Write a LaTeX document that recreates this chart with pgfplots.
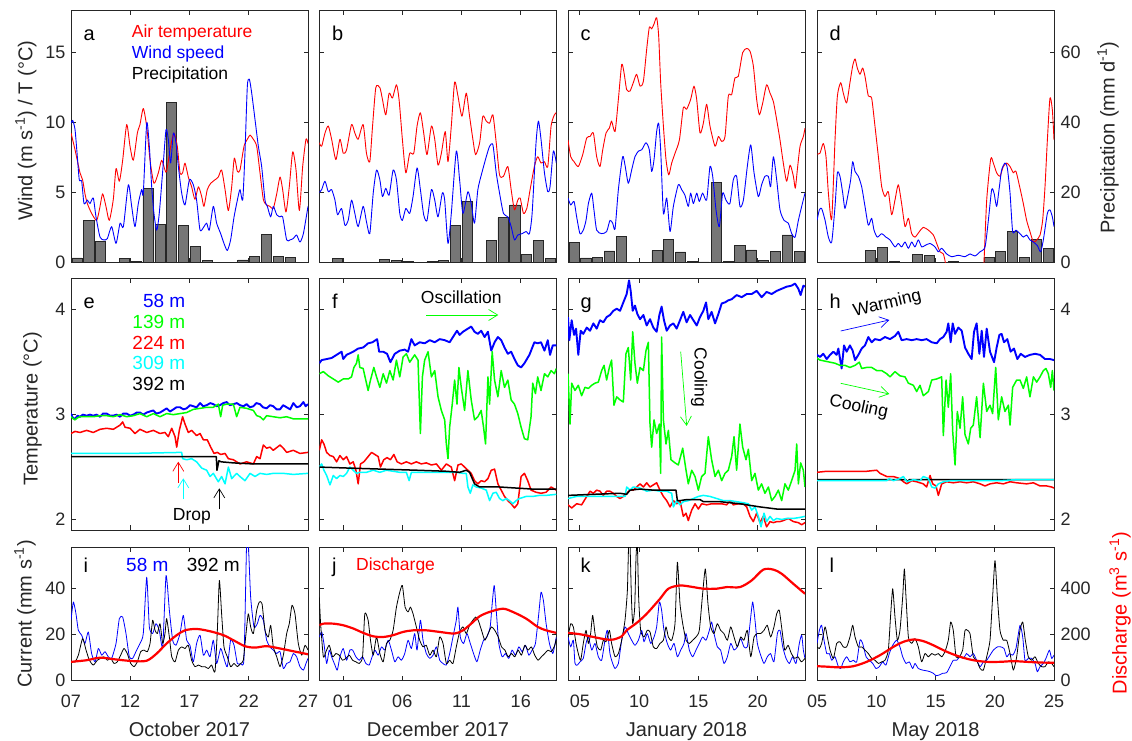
\documentclass[border=0pt]{standalone}
\usepackage{pgfplots}
\pgfplotsset{compat=1.18}
\usepackage{fontspec}
\setmainfont{Liberation Sans}
\usetikzlibrary{arrows.meta}
\definecolor{axgray}{RGB}{38,38,38}
\definecolor{bargray}{RGB}{118,118,118}
\definecolor{cyn}{RGB}{0,255,255}
\definecolor{grn}{RGB}{0,255,0}
\definecolor{rd}{RGB}{255,0,0}
\definecolor{bl}{RGB}{0,0,255}
\newcommand{\fs}[1]{\fontsize{#1}{#1}\selectfont}
\pgfplotsset{
  every axis/.append style={
    scale only axis, width=237pt, anchor=south west,
    axis line style={draw=axgray, line width=0.8pt},
    tick style={draw=axgray, line width=0.8pt},
    tick align=inside, major tick length=4.5pt,
    tick label style={font=\fs{18}, text=axgray},
    /pgf/number format/assume math mode=true,
    xticklabel style={yshift=-11pt},
  },
  C1/.style={xmin=7,xmax=27,xtick={7,12,17,22,27}},
  C2/.style={xmin=-1,xmax=19,xtick={1,6,11,16}},
  C3/.style={xmin=4,xmax=24,xtick={5,10,15,20}},
  C4/.style={xmin=5,xmax=25,xtick={5,10,15,20,25}},
  R1/.style={height=251.6pt,ymin=0,ymax=18,ytick={0,5,10,15}},
  R1b/.style={height=251.6pt,ymin=0,ymax=72,ytick={0,20,40,60}},
  R2/.style={height=251.7pt,ymin=1.9,ymax=4.3,ytick={2,3,4}},
  R3/.style={height=133.4pt,ymin=0,ymax=58,ytick={0,20,40}},
  R3d/.style={height=133.4pt,ymin=0,ymax=580,ytick={0,200,400}},
  nox/.style={xticklabel=\empty},
  noy/.style={yticklabel=\empty},
  ly/.style={yticklabel style={xshift=-2pt}},
  ry/.style={yticklabel style={xshift=3pt}},
  bars/.style={ybar, bar width=0.85, fill=bargray, draw=black!85, line width=0.6pt},
  AT/.style={rd, line width=0.9pt, line join=round, smooth, tension=0.4},
  WS/.style={bl, line width=0.9pt, line join=round, smooth, tension=0.4},
  t58/.style={bl, line width=1.9pt, line join=round},
  t139/.style={grn, line width=1.5pt, line join=round},
  t224/.style={rd, line width=1.5pt, line join=round},
  t309/.style={cyn, line width=1.5pt, line join=round},
  t392/.style={black, line width=1.5pt, line join=round},
  c58/.style={bl, line width=0.8pt, line join=round, smooth, tension=0.35},
  c392/.style={black, line width=0.8pt, line join=round, smooth, tension=0.35},
  dis/.style={rd, line width=2.2pt, smooth},
}
\tikzset{ann/.style={inner sep=0pt, font=\fs{17.5}},
  arr/.style={line width=0.7pt, -{Straight Barb[length=9pt,width=11pt]}}}
\begin{document}
\begin{tikzpicture}
\useasboundingbox (0,0) rectangle (1132pt,741pt);
% ================= ROW 1 =================
% ---- a ----
\begin{axis}[at={(71pt,478.7pt)}, C1, R1b, hide axis]
\addplot[bars] coordinates {(7.5,1.25) (8.5,12.1) (9.5,6.0) (11.5,1.05) (12.5,0.2) (13.5,21.2) (14.5,10.8) (15.5,45.8) (16.5,10.6) (17.5,4.6) (18.5,0.5) (21.5,0.7) (22.5,1.6) (23.5,8.0) (24.5,1.8) (25.5,1.4)};
\end{axis}
\begin{axis}[at={(71pt,478.7pt)}, C1, R1, nox, ly]
\addplot[AT] coordinates {(7.00,9.25) (7.34,8.05) (7.76,6.4) (7.98,5.9) (8.18,4.9) (8.38,4.2) (8.74,3.5) (9.17,3.0) (9.45,4.0) (9.67,4.9) (9.95,4.0) (10.23,3.0) (10.57,4.5) (10.80,6.7) (11.08,5.8) (11.36,7.3) (11.70,9.85) (11.98,8.3) (12.26,7.3) (12.60,9.25) (12.82,9.85) (13.10,11.0) (13.39,9.7) (13.67,7.3) (14.00,5.65) (14.37,6.4) (14.65,7.3) (14.93,6.6) (15.07,6.5) (15.41,8.3) (15.69,9.25) (15.97,8.3) (16.20,6.4) (16.42,6.4) (16.62,7.1) (16.90,6.1) (17.18,5.4) (17.46,4.5) (17.75,5.4) (18.03,4.7) (18.22,4.0) (18.50,5.2) (18.79,5.65) (19.15,5.9) (19.43,6.1) (19.71,6.6) (20.00,5.2) (20.28,3.7) (20.56,5.4) (20.78,7.45) (21.04,6.5) (21.26,6.6) (21.60,8.3) (21.88,8.8) (22.11,9.1) (22.39,8.8) (22.67,8.3) (22.95,6.4) (23.23,4.5) (23.51,4.1) (23.79,4.0) (24.07,3.85) (24.36,4.9) (24.64,6.1) (24.86,5.2) (25.14,3.6) (25.42,5.4) (25.71,7.9) (25.99,6.6) (26.27,3.7) (26.55,6.85) (26.83,8.8) (27.00,8.5)};
\addplot[WS] coordinates {(7.00,9.95) (7.14,10.15) (7.34,9.5) (7.53,7.6) (7.70,5.9) (7.90,5.8) (8.10,4.2) (8.38,4.45) (8.60,4.2) (8.88,4.6) (9.11,3.25) (9.45,1.8) (9.78,1.6) (10.07,1.7) (10.43,2.55) (10.80,1.35) (11.14,2.8) (11.42,2.55) (11.84,5.55) (12.12,4.0) (12.40,2.55) (12.68,4.2) (12.96,5.2) (13.10,4.95) (13.39,9.95) (13.61,8.3) (13.81,5.4) (14.00,3.5) (14.23,2.3) (14.45,3.5) (14.79,7.1) (15.02,9.5) (15.21,8.8) (15.41,7.1) (15.64,9.25) (15.86,8.55) (16.06,6.85) (16.34,4.95) (16.62,4.1) (16.99,5.9) (17.32,5.55) (17.60,4.45) (17.89,2.3) (18.22,2.55) (18.45,2.8) (18.67,2.3) (19.01,4.0) (19.29,2.8) (19.63,2.05) (19.91,1.35) (20.19,0.85) (20.47,1.6) (20.76,3.25) (21.04,4.45) (21.26,5.2) (21.49,4.45) (21.68,7.8) (21.88,12.6) (22.05,13.1) (22.25,12.1) (22.53,10.2) (22.81,8.3) (23.09,6.85) (23.37,4.45) (23.57,4.0) (23.85,3.25) (24.07,4.0) (24.36,3.4) (24.64,3.25) (24.86,3.25) (25.20,1.6) (25.48,1.6) (25.76,1.7) (26.04,1.95) (26.32,1.45) (26.61,2.05) (27.00,4.0)};
\end{axis}
% ---- b ----
\begin{axis}[at={(319.3pt,478.7pt)}, C2, R1b, hide axis]
\addplot[bars] coordinates {(0.5,1.0) (4.5,0.8) (5.5,0.5) (6.5,0.2) (8.5,0.2) (9.5,0.5) (10.5,10.6) (11.5,17.5) (13.5,6.3) (14.5,12.8) (15.5,16.4) (16.5,2.3) (17.5,6.3) (18.5,1.05)};
\end{axis}
\begin{axis}[at={(319.3pt,478.7pt)}, C2, R1, nox, noy]
\addplot[AT] coordinates {(-1.00,8.55) (-0.80,8.3) (-0.52,9.25) (-0.24,9.75) (0.04,8.8) (0.40,7.35) (0.74,8.8) (1.02,7.8) (1.30,8.05) (1.72,9.85) (2.00,9.25) (2.28,8.8) (2.70,9.85) (2.98,7.8) (3.26,7.2) (3.49,9.7) (3.77,12.5) (4.11,12.5) (4.33,11.65) (4.61,10.55) (4.89,12.1) (5.17,11.75) (5.51,12.7) (5.73,11.65) (6.01,8.8) (6.30,6.4) (6.63,7.8) (6.97,7.8) (7.25,9.75) (7.53,10.7) (7.81,9.25) (8.09,7.7) (8.46,9.75) (8.74,8.8) (9.02,6.95) (9.30,7.8) (9.63,9.35) (9.86,7.2) (10.14,9.75) (10.42,12.9) (10.70,11.9) (11.04,10.45) (11.40,12.1) (11.68,10.45) (11.96,8.8) (12.19,7.7) (12.53,8.55) (12.80,10.45) (13.09,10.1) (13.37,9.95) (13.65,10.55) (13.93,8.55) (14.21,6.25) (14.54,6.15) (14.91,6.85) (15.19,5.2) (15.47,3.75) (15.75,4.45) (15.95,4.6) (16.23,3.5) (16.51,3.85) (16.79,5.2) (17.15,6.85) (17.43,7.55) (17.71,7.1) (18.00,7.2) (18.28,6.85) (18.56,9.75) (18.84,10.55) (19.00,10.7)};
\addplot[WS] coordinates {(-1.00,5.0) (-0.80,5.2) (-0.52,5.8) (-0.24,5.05) (0.04,5.2) (0.32,4.45) (0.54,3.4) (0.88,3.85) (1.16,2.65) (1.44,3.0) (1.72,4.45) (2.00,3.5) (2.28,2.55) (2.70,4.0) (2.98,2.9) (3.26,2.05) (3.55,4.95) (3.83,6.6) (4.11,5.9) (4.33,4.7) (4.61,5.3) (4.89,4.8) (5.23,6.6) (5.51,5.9) (5.79,3.5) (6.01,3.0) (6.30,3.85) (6.63,3.5) (6.91,4.7) (7.25,6.75) (7.53,5.2) (7.81,3.4) (8.09,3.0) (8.46,5.2) (8.74,4.45) (9.02,3.25) (9.38,4.95) (9.58,4.45) (9.86,1.35) (10.14,3.5) (10.56,7.95) (10.84,5.9) (11.12,3.5) (11.54,5.05) (11.82,4.2) (12.10,2.8) (12.38,5.2) (12.75,6.5) (13.09,7.55) (13.37,8.3) (13.65,8.4) (13.93,6.4) (14.21,4.95) (14.54,3.5) (14.91,3.25) (15.19,2.55) (15.47,1.6) (15.75,1.95) (16.12,2.05) (16.45,2.2) (16.73,2.05) (16.96,3.5) (17.29,8.55) (17.49,10.1) (17.71,8.8) (18.00,6.4) (18.28,5.05) (18.47,5.4) (18.75,7.95) (19.00,7.1)};
\end{axis}
% ---- c ----
\begin{axis}[at={(568pt,478.7pt)}, C3, R1b, hide axis]
\addplot[bars] coordinates {(4.5,5.8) (5.5,1.25) (6.5,1.35) (7.5,3.25) (8.5,7.5) (11.5,3.35) (12.5,6.5) (13.5,3.0) (14.5,0.2) (15.5,0.1) (16.5,22.8) (17.5,0.2) (18.5,4.8) (19.5,3.55) (20.5,0.5) (21.5,3.15) (22.5,7.85) (23.5,3.15)};
\end{axis}
\begin{axis}[at={(568pt,478.7pt)}, C3, R1, nox, noy]
\addplot[AT] coordinates {(4.00,8.75) (4.23,7.55) (4.51,7.2) (4.87,6.85) (5.24,7.7) (5.58,8.9) (5.86,9.0) (6.14,9.25) (6.42,7.55) (6.70,6.85) (6.93,8.05) (7.21,9.25) (7.49,9.6) (7.68,10.1) (7.97,9.35) (8.25,11.65) (8.53,14.15) (8.73,13.55) (8.95,12.35) (9.23,12.25) (9.51,12.85) (9.79,13.45) (10.08,12.6) (10.36,12.95) (10.64,15.25) (10.86,16.8) (11.06,16.7) (11.26,17.05) (11.48,17.5) (11.65,16.2) (11.82,12.85) (12.05,9.75) (12.27,7.35) (12.50,6.25) (12.75,7.1) (13.03,7.8) (13.40,8.75) (13.73,11.05) (14.01,10.95) (14.35,11.65) (14.63,12.6) (14.86,11.65) (15.14,9.25) (15.42,9.95) (15.70,11.3) (15.98,9.75) (16.41,8.3) (16.69,9.0) (16.97,8.65) (17.25,9.0) (17.53,11.9) (17.81,12.0) (18.09,13.2) (18.37,13.3) (18.74,15.0) (19.08,15.3) (19.36,15.1) (19.64,14.05) (19.92,11.65) (20.15,10.55) (20.43,11.4) (20.76,12.7) (21.05,12.1) (21.33,11.5) (21.61,10.2) (21.89,8.75) (22.17,7.1) (22.45,5.8) (22.74,6.95) (23.02,6.15) (23.18,5.3) (23.35,6.6) (23.58,8.3) (23.86,9.0) (24.00,9.6)};
\addplot[WS] coordinates {(4.00,4.6) (4.23,4.1) (4.51,4.35) (4.73,3.25) (5.01,2.05) (5.29,2.3) (5.52,3.0) (5.72,4.2) (6.00,4.95) (6.19,3.75) (6.42,2.3) (6.84,2.05) (7.26,2.2) (7.54,3.0) (7.77,2.8) (7.97,2.4) (8.25,5.2) (8.61,7.55) (8.81,6.95) (9.09,5.65) (9.37,6.6) (9.65,7.55) (9.94,7.95) (10.22,8.05) (10.58,8.55) (10.86,8.05) (11.06,6.5) (11.26,7.35) (11.48,9.35) (11.65,9.95) (11.82,8.05) (12.05,3.5) (12.33,4.6) (12.61,2.2) (12.89,4.0) (13.31,5.55) (13.59,5.2) (13.87,4.8) (14.15,4.0) (14.35,4.95) (14.58,4.2) (14.86,4.95) (15.08,4.35) (15.36,4.95) (15.70,4.45) (15.98,6.85) (16.21,6.15) (16.49,3.75) (16.77,2.55) (17.05,4.95) (17.33,4.45) (17.66,4.2) (17.95,5.9) (18.23,6.15) (18.51,4.0) (18.80,4.45) (19.13,6.85) (19.42,8.4) (19.70,6.4) (20.06,4.7) (20.34,5.55) (20.62,6.15) (20.91,6.15) (21.10,5.4) (21.33,7.55) (21.61,5.9) (21.89,3.75) (22.23,3.0) (22.59,2.8) (22.88,2.05) (23.16,1.8) (23.44,3.0) (23.72,4.0) (24.00,4.95)};
\end{axis}
% ---- d ----
\begin{axis}[at={(817pt,478.7pt)}, C4, R1b, hide x axis, axis y line*=right, ry]
\addplot[bars] coordinates {(9.5,3.45) (10.5,4.2) (11.5,0.3) (13.5,2.2) (14.5,1.9) (16.5,0.2) (19.5,1.45) (20.5,3.15) (21.5,8.9) (22.5,1.35) (23.5,6.5) (24.5,3.9)};
\end{axis}
\begin{axis}[at={(817pt,478.7pt)}, C4, R1, nox, noy]
\addplot[AT] coordinates {(5.00,7.75) (5.25,7.8) (5.53,8.5) (5.76,7.55) (5.96,4.95) (6.24,3.1) (6.52,8.75) (6.72,11.9) (7.00,12.85) (7.22,12.1) (7.50,11.4) (7.78,12.85) (8.01,14.05) (8.21,14.55) (8.40,13.9) (8.63,13.45) (8.85,13.9) (9.05,13.3) (9.33,11.9) (9.61,11.75) (9.89,9.75) (10.18,7.55) (10.46,5.4) (10.74,4.7) (11.02,5.05) (11.30,3.4) (11.58,4.45) (11.86,5.55) (12.14,4.2) (12.43,2.55) (12.71,3.15) (12.99,2.05) (13.27,1.8) (13.64,2.2) (13.97,2.5) (14.40,2.3) (14.82,1.95) (15.10,1.35) (15.38,0.75) (15.66,0.6) (15.83,0) (15.94,-0.5) (17.63,-1.5) (18.98,-0.5) (19.09,0) (19.32,4.45) (19.66,7.4) (19.88,7.1) (20.16,6.4) (20.44,6.15) (20.72,6.85) (21.01,7.1) (21.29,6.85) (21.57,6.4) (21.79,6.5) (22.13,5.3) (22.41,4.2) (22.69,3.0) (22.97,2.2) (23.26,1.45) (23.54,1.6) (23.82,1.95) (24.04,3.0) (24.24,5.4) (24.44,8.75) (24.66,11.75) (24.86,10.9) (25.00,8.75)};
\addplot[WS] coordinates {(5.00,3.0) (5.20,3.75) (5.39,3.85) (5.68,3.0) (5.96,1.8) (6.24,1.45) (6.52,4.0) (6.72,6.4) (6.94,6.15) (7.17,4.95) (7.36,3.85) (7.64,4.95) (7.84,5.9) (8.01,7.2) (8.21,6.5) (8.49,6.15) (8.77,5.4) (9.05,4.0) (9.33,2.65) (9.61,3.15) (9.81,2.3) (10.09,1.8) (10.46,2.05) (10.82,1.8) (11.16,1.6) (11.58,1.1) (11.86,1.35) (12.14,1.1) (12.43,1.45) (12.71,1.0) (12.99,1.45) (13.27,1.1) (13.55,1.6) (13.83,1.1) (14.11,1.2) (14.54,1.35) (14.96,1.1) (15.24,0.75) (15.52,1.0) (15.94,0.6) (16.36,0.4) (16.93,0.5) (17.49,0.4) (17.91,0.6) (18.33,0.45) (18.76,0.75) (19.18,1.1) (19.46,3.0) (19.74,5.2) (19.94,4.95) (20.16,4.0) (20.39,5.4) (20.58,6.6) (20.86,7.1) (21.06,6.75) (21.29,4.95) (21.51,2.2) (21.79,2.3) (22.13,2.05) (22.41,1.8) (22.69,1.95) (22.97,1.6) (23.26,1.45) (23.59,1.2) (23.87,0.75) (24.10,1.6) (24.44,3.5) (24.66,3.75) (24.86,3.25) (25.00,2.55)};
\end{axis}
% ================= ROW 2 =================
% ---- e ----
\begin{axis}[at={(71pt,211pt)}, C1, R2, nox, ly]
\addplot[t58] coordinates {(7.00,3.01)(7.15,2.97)(7.34,2.96)(7.55,2.99)(7.76,2.98)(8.0,3.0)(8.32,2.99)(8.6,3.0)(8.88,2.99)(9.15,3.0)(9.45,2.98)(9.7,3.01)(10.01,3.01)(10.3,2.99)(10.57,2.99)(10.85,3.0)(11.14,2.98)(11.4,3.01)(11.70,3.01)(12.0,2.99)(12.26,3.0)(12.55,3.02)(12.82,3.02)(13.1,3.0)(13.39,3.02)(13.65,3.03)(13.95,3.04)(14.2,3.01)(14.51,3.02)(14.8,3.04)(15.07,3.06)(15.35,3.03)(15.64,3.05)(15.9,3.07)(16.20,3.07)(16.5,3.05)(16.76,3.06)(17.05,3.09)(17.32,3.08)(17.6,3.07)(17.89,3.11)(18.15,3.08)(18.45,3.09)(18.75,3.11)(19.01,3.1)(19.3,3.08)(19.57,3.09)(19.85,3.11)(20.14,3.12)(20.4,3.09)(20.70,3.1)(21.0,3.11)(21.26,3.09)(21.55,3.08)(21.82,3.1)(22.1,3.07)(22.39,3.08)(22.65,3.11)(22.95,3.1)(23.2,3.07)(23.51,3.06)(23.8,3.09)(24.07,3.08)(24.35,3.05)(24.64,3.05)(24.9,3.09)(25.20,3.07)(25.5,3.05)(25.76,3.11)(26.05,3.07)(26.32,3.08)(26.61,3.12)(26.8,3.08)(27.00,3.1)};
\addplot[t139] coordinates {(7.00,2.98)(7.2,2.96)(7.34,2.95)(7.55,2.97)(7.76,2.98)(8.32,2.98)(8.88,2.98)(9.45,2.99)(10.01,2.99)(10.57,2.98)(11.14,3.0)(11.70,2.98)(12.26,2.99)(12.82,3.01)(13.39,2.98)(13.95,3.01)(14.51,2.98)(15.07,3.01)(15.64,3.0)(16.20,3.01)(16.76,3.02)(17.32,3.05)(17.89,3.06)(18.45,3.07)(19.01,3.07)(19.43,3.1)(19.63,2.98)(19.80,3.09)(20.14,3.1)(20.70,3.1)(20.98,2.98)(21.26,3.07)(21.82,3.06)(22.39,3.04)(22.67,2.99)(22.95,2.98)(23.23,2.95)(23.51,2.99)(24.07,2.98)(24.64,2.97)(25.20,2.98)(25.76,2.96)(26.32,2.96)(27.00,2.96)};
\addplot[t224] coordinates {(7.00,2.82)(7.34,2.84)(7.76,2.83)(8.32,2.85)(8.88,2.83)(9.45,2.86)(10.01,2.87)(10.57,2.86)(11.14,2.9)(11.36,2.93)(11.56,2.88)(11.98,2.87)(12.40,2.82)(12.82,2.86)(13.39,2.83)(13.95,2.85)(14.51,2.82)(14.93,2.83)(15.21,2.79)(15.50,2.87)(15.78,2.79)(15.92,2.69)(16.14,2.85)(16.42,2.98)(16.62,2.91)(16.90,2.83)(17.18,2.85)(17.60,2.8)(17.89,2.82)(18.17,2.76)(18.50,2.76)(18.79,2.69)(19.07,2.63)(19.35,2.64)(19.63,2.62)(20.00,2.63)(20.28,2.58)(20.70,2.57)(21.26,2.53)(21.82,2.55)(22.39,2.53)(22.67,2.6)(22.95,2.58)(23.23,2.71)(23.51,2.68)(23.79,2.69)(24.07,2.66)(24.64,2.71)(24.92,2.68)(25.20,2.64)(25.76,2.66)(26.32,2.63)(27.00,2.64)};
\addplot[t309] coordinates {(7.00,2.63)(12.0,2.63)(16.34,2.64)(16.42,2.58)(16.76,2.57)(17.18,2.58)(17.60,2.55)(18.03,2.49)(18.45,2.47)(18.73,2.41)(19.01,2.44)(19.43,2.36)(19.71,2.41)(20.00,2.34)(20.28,2.5)(20.56,2.39)(20.98,2.44)(21.26,2.41)(21.68,2.37)(22.11,2.44)(22.53,2.41)(22.95,2.44)(23.51,2.43)(24.07,2.44)(24.92,2.44)(25.76,2.43)(27.00,2.44)};
\addplot[t392] coordinates {(7.00,2.6)(19.26,2.6)(19.32,2.47)(19.48,2.56)(19.68,2.55)(20.67,2.54)(22.36,2.53)(27.00,2.53)};
\end{axis}
% ---- f ----
\begin{axis}[at={(319.3pt,211pt)}, C2, R2, nox, noy]
\addplot[t58] coordinates {(-1.00,3.49)(-0.80,3.52)(-0.38,3.53)(0.04,3.54)(0.46,3.57)(0.88,3.6)(1.02,3.53)(1.30,3.57)(1.86,3.6)(2.28,3.63)(2.70,3.64)(3.12,3.68)(3.49,3.69)(3.88,3.72)(4.05,3.6)(4.39,3.6)(4.72,3.58)(5.00,3.5)(5.37,3.58)(5.79,3.61)(6.21,3.62)(6.49,3.6)(6.77,3.72)(7.05,3.66)(7.47,3.69)(7.89,3.68)(8.32,3.71)(8.74,3.69)(9.16,3.72)(9.58,3.71)(10.00,3.69)(10.28,3.74)(10.62,3.8)(10.84,3.76)(11.12,3.79)(11.54,3.82)(11.82,3.84)(12.10,3.79)(12.38,3.77)(12.66,3.8)(12.95,3.74)(13.23,3.79)(13.51,3.61)(13.79,3.69)(14.07,3.74)(14.35,3.71)(14.63,3.64)(14.91,3.58)(15.19,3.6)(15.47,3.53)(15.75,3.47)(16.03,3.45)(16.31,3.49)(16.73,3.57)(17.15,3.69)(17.43,3.68)(17.71,3.69)(18.00,3.61)(18.28,3.71)(18.47,3.57)(18.70,3.66)(19.00,3.66)};
\addplot[t139] coordinates {(-1.00,3.39)(-0.66,3.41)(-0.24,3.37)(0.18,3.34)(0.60,3.31)(1.02,3.34)(1.44,3.34)(1.72,3.36)(1.92,3.45)(2.14,3.49)(2.28,3.57)(2.42,3.45)(2.70,3.44)(2.84,3.37)(2.98,3.3)(3.12,3.23)(3.32,3.33)(3.60,3.45)(3.83,3.36)(4.11,3.26)(4.39,3.39)(4.67,3.3)(4.95,3.42)(5.23,3.33)(5.51,3.52)(5.79,3.36)(6.07,3.55)(6.35,3.58)(6.63,3.5)(7.05,3.57)(7.33,3.52)(7.53,2.82)(7.70,3.36)(7.89,3.52)(8.18,3.6)(8.46,3.36)(8.74,3.42)(9.02,3.17)(9.30,3.04)(9.58,2.95)(9.72,2.72)(9.86,2.58)(10.00,2.88)(10.22,3.1)(10.42,3.33)(10.62,3.1)(10.78,3.45)(10.98,3.26)(11.26,3.04)(11.54,3.42)(11.82,3.14)(12.10,2.95)(12.38,2.98)(12.66,3.04)(12.86,2.88)(13.03,2.72)(13.23,3.36)(13.37,3.1)(13.59,3.6)(13.79,3.33)(14.07,3.17)(14.35,3.42)(14.63,3.26)(14.91,3.33)(15.19,3.14)(15.47,3.1)(15.75,3.01)(16.03,2.88)(16.31,2.77)(16.59,2.76)(16.87,2.98)(17.01,3.3)(17.24,3.2)(17.43,3.36)(17.71,3.23)(18.00,3.39)(18.28,3.36)(18.56,3.42)(18.84,3.39)(19.00,3.44)};
\addplot[t224] coordinates {(-1.00,2.66)(-0.80,2.76)(-0.61,2.72)(-0.38,2.64)(-0.10,2.61)(0.18,2.6)(0.46,2.55)(0.74,2.61)(1.02,2.57)(1.30,2.6)(1.58,2.53)(1.86,2.55)(2.09,2.47)(2.28,2.34)(2.48,2.53)(2.76,2.55)(3.12,2.6)(3.41,2.64)(3.69,2.62)(3.97,2.6)(4.16,2.5)(4.44,2.57)(4.72,2.59)(5.00,2.57)(5.29,2.62)(5.57,2.55)(5.93,2.53)(6.35,2.55)(6.77,2.53)(7.19,2.55)(7.61,2.53)(8.03,2.54)(8.46,2.52)(8.88,2.53)(9.30,2.47)(9.72,2.53)(10.14,2.5)(10.42,2.37)(10.70,2.52)(10.98,2.53)(11.26,2.5)(11.54,2.47)(11.82,2.44)(12.10,2.37)(12.38,2.34)(12.66,2.37)(12.95,2.36)(13.23,2.39)(13.51,2.47)(13.79,2.48)(14.07,2.34)(14.35,2.28)(14.63,2.22)(14.91,2.18)(15.19,2.15)(15.47,2.11)(15.75,2.15)(16.03,2.41)(16.31,2.44)(16.59,2.37)(16.87,2.28)(17.29,2.26)(17.71,2.25)(18.14,2.26)(18.56,2.31)(19.00,2.28)};
\addplot[t309] coordinates {(-1.00,2.5)(-0.80,2.53)(-0.61,2.47)(-0.38,2.42)(-0.10,2.33)(0.18,2.42)(0.46,2.39)(0.74,2.42)(1.02,2.41)(1.30,2.44)(1.58,2.5)(1.86,2.47)(2.14,2.44)(2.42,2.45)(2.98,2.45)(3.55,2.47)(4.11,2.45)(4.67,2.47)(5.23,2.46)(5.79,2.45)(6.35,2.45)(6.58,2.37)(6.77,2.45)(7.47,2.45)(8.60,2.45)(9.72,2.45)(10.56,2.45)(11.12,2.44)(11.40,2.44)(11.54,2.31)(11.74,2.25)(11.96,2.33)(12.24,2.31)(12.66,2.3)(13.09,2.28)(13.37,2.18)(13.65,2.25)(13.93,2.26)(14.21,2.2)(14.49,2.18)(14.77,2.2)(15.05,2.18)(15.33,2.15)(15.61,2.18)(15.89,2.2)(16.45,2.22)(17.01,2.22)(17.57,2.23)(18.14,2.23)(19.00,2.24)};
\addplot[t392] coordinates {(-1.00,2.5)(1.58,2.49)(4.39,2.48)(7.19,2.47)(9.72,2.46)(10.84,2.45)(11.40,2.47)(11.68,2.45)(11.91,2.39)(12.10,2.34)(12.53,2.31)(13.09,2.31)(14.21,2.31)(15.61,2.3)(17.01,2.29)(19.00,2.29)};
\end{axis}
% ---- g ----
\begin{axis}[at={(568pt,211pt)}, C3, R2, nox, noy]
\addplot[t58] coordinates {(4.00,3.93)(4.11,3.71)(4.31,3.9)(4.51,3.76)(4.68,3.82)(4.87,3.57)(5.07,3.8)(5.29,3.77)(5.58,3.83)(5.86,3.8)(6.14,3.87)(6.42,3.82)(6.70,3.9)(6.98,3.88)(7.26,3.93)(7.54,3.95)(7.83,3.99)(8.11,4.01)(8.39,3.99)(8.67,4.07)(8.95,4.15)(9.15,4.28)(9.29,4.18)(9.46,3.99)(9.65,4.04)(9.85,3.96)(10.08,3.91)(10.36,3.95)(10.64,3.85)(10.92,3.91)(11.20,3.83)(11.48,3.79)(11.71,3.95)(11.90,4.03)(12.10,3.9)(12.33,3.8)(12.61,3.85)(12.89,3.87)(13.17,3.82)(13.45,3.9)(13.73,3.98)(14.01,3.88)(14.30,3.95)(14.58,3.9)(14.86,3.85)(15.14,3.93)(15.42,3.99)(15.65,4.07)(15.84,3.91)(16.12,3.98)(16.41,3.87)(16.69,3.96)(16.97,4.06)(17.25,4.07)(17.53,4.09)(17.81,4.1)(18.23,4.14)(18.66,4.12)(19.08,4.15)(19.50,4.15)(19.92,4.18)(20.34,4.12)(20.76,4.17)(21.19,4.15)(21.61,4.18)(22.03,4.2)(22.45,4.22)(22.87,4.23)(23.16,4.25)(23.44,4.2)(23.63,4.14)(23.86,4.23)(24.00,4.22)};
\addplot[t139] coordinates {(4.00,3.39)(4.17,2.91)(4.31,3.3)(4.59,3.23)(4.87,3.28)(5.15,3.18)(5.43,3.26)(5.72,3.25)(6.00,3.28)(6.28,3.3)(6.56,3.31)(6.84,3.42)(7.04,3.47)(7.26,3.33)(7.49,3.45)(7.68,3.52)(7.88,3.09)(8.11,3.17)(8.39,3.14)(8.67,3.12)(8.89,3.58)(9.09,3.64)(9.29,3.33)(9.46,3.79)(9.65,3.49)(9.85,3.3)(10.08,3.45)(10.36,3.42)(10.58,3.61)(10.78,3.69)(10.92,2.91)(11.06,2.69)(11.26,2.95)(11.48,2.82)(11.71,2.91)(11.82,2.44)(11.90,3.74)(12.05,2.95)(12.27,2.72)(12.47,2.85)(12.69,2.57)(13.03,2.54)(13.31,2.52)(13.68,2.68)(13.96,2.47)(14.15,2.34)(14.44,2.47)(14.72,2.41)(15.00,2.28)(15.28,2.41)(15.56,2.44)(15.84,2.79)(16.12,2.57)(16.41,2.41)(16.69,2.47)(16.97,2.37)(17.25,2.44)(17.53,2.47)(17.81,2.6)(18.01,2.79)(18.23,2.47)(18.51,2.91)(18.74,2.69)(19.02,2.57)(19.22,2.67)(19.50,2.37)(19.78,2.44)(20.06,2.28)(20.34,2.34)(20.62,2.25)(20.91,2.31)(21.19,2.18)(21.47,2.22)(21.75,2.28)(22.03,2.18)(22.31,2.34)(22.59,2.28)(22.87,2.37)(23.16,2.47)(23.30,2.72)(23.44,2.34)(23.63,2.54)(23.86,2.47)(24.00,2.31)};
\addplot[t224] coordinates {(4.00,2.14)(4.31,2.11)(4.73,2.15)(5.15,2.14)(5.58,2.22)(5.86,2.27)(6.14,2.25)(6.42,2.28)(6.70,2.27)(6.98,2.23)(7.26,2.27)(7.54,2.27)(7.83,2.25)(8.11,2.22)(8.39,2.2)(8.67,2.22)(8.95,2.25)(9.23,2.28)(9.51,2.28)(9.79,2.31)(10.08,2.34)(10.36,2.31)(10.64,2.35)(10.92,2.31)(11.20,2.33)(11.48,2.35)(11.76,2.28)(12.05,2.22)(12.33,2.18)(12.61,2.12)(12.89,2.18)(13.17,2.15)(13.45,2.18)(13.73,2.03)(13.96,2.06)(14.15,1.99)(14.44,2.09)(14.72,2.15)(15.00,2.1)(15.28,2.15)(15.70,2.14)(16.12,2.15)(16.55,2.15)(16.97,2.15)(17.39,2.14)(17.67,2.18)(17.95,2.14)(18.37,2.15)(18.80,2.15)(19.08,2.12)(19.36,2.03)(19.64,1.98)(19.92,2.06)(20.20,1.97)(20.48,2.03)(20.76,1.93)(21.05,1.98)(21.33,1.97)(21.61,1.98)(21.89,1.98)(22.17,1.99)(22.59,2.01)(23.02,1.98)(23.44,1.97)(23.72,1.95)(24.00,1.97)};
\addplot[t309] coordinates {(4.00,2.2)(4.73,2.22)(5.58,2.22)(6.42,2.22)(7.26,2.22)(8.39,2.22)(8.81,2.22)(8.95,2.31)(9.23,2.28)(9.51,2.31)(10.08,2.3)(10.64,2.27)(11.20,2.28)(11.76,2.27)(12.33,2.27)(12.75,2.25)(12.89,2.12)(13.17,2.18)(13.45,2.14)(13.73,2.17)(14.15,2.18)(14.58,2.2)(15.00,2.22)(15.42,2.23)(15.98,2.22)(16.55,2.2)(17.11,2.18)(17.67,2.18)(18.23,2.17)(18.80,2.16)(19.22,2.15)(19.50,2.09)(19.78,2.12)(20.06,2.03)(20.29,1.93)(20.54,2.06)(20.76,1.98)(21.05,2.03)(21.33,1.99)(21.61,2.01)(22.03,2.0)(22.45,2.01)(23.02,2.01)(23.58,2.02)(24.00,2.03)};
\addplot[t392] coordinates {(4.00,2.23)(6.14,2.24)(8.39,2.25)(8.95,2.24)(9.23,2.28)(10.08,2.29)(11.20,2.28)(13.11,2.28)(13.23,2.18)(13.45,2.18)(14.01,2.19)(15.14,2.19)(15.42,2.17)(16.83,2.17)(18.51,2.15)(20.20,2.12)(21.61,2.1)(23.02,2.1)(24.00,2.1)};
\end{axis}
% ---- h ----
\begin{axis}[at={(817pt,211pt)}, C4, R2, nox, yticklabel pos=right, ry]
\addplot[t58] coordinates {(5.00,3.57)(5.25,3.55)(5.53,3.58)(5.82,3.53)(6.10,3.57)(6.38,3.6)(6.66,3.57)(6.80,3.63)(7.08,3.44)(7.28,3.66)(7.50,3.6)(7.78,3.66)(8.01,3.61)(8.21,3.52)(8.49,3.57)(8.77,3.63)(9.05,3.66)(9.33,3.74)(9.61,3.69)(9.89,3.72)(10.32,3.71)(10.74,3.74)(11.16,3.72)(11.58,3.75)(11.86,3.79)(12.14,3.71)(12.57,3.72)(12.99,3.71)(13.41,3.72)(13.83,3.71)(14.25,3.72)(14.68,3.69)(15.10,3.68)(15.38,3.72)(15.66,3.74)(15.94,3.79)(16.08,3.87)(16.28,3.69)(16.45,3.87)(16.65,3.77)(16.93,3.83)(17.21,3.8)(17.49,3.64)(17.77,3.58)(18.05,3.53)(18.25,3.79)(18.47,3.87)(18.70,3.58)(18.90,3.8)(19.09,3.55)(19.32,3.82)(19.60,3.6)(19.94,3.5)(20.16,3.64)(20.39,3.76)(20.58,3.77)(20.78,3.69)(21.06,3.72)(21.34,3.6)(21.62,3.63)(21.91,3.53)(22.19,3.58)(22.55,3.55)(22.97,3.57)(23.40,3.58)(23.82,3.57)(24.24,3.53)(24.66,3.53)(25.00,3.52)};
\addplot[t139] coordinates {(5.00,3.54)(5.25,3.52)(5.68,3.51)(6.10,3.5)(6.52,3.49)(6.94,3.47)(7.36,3.47)(7.78,3.45)(8.21,3.47)(8.57,3.5)(8.77,3.44)(9.19,3.45)(9.61,3.45)(10.04,3.42)(10.46,3.42)(10.88,3.39)(11.16,3.36)(11.58,3.41)(12.00,3.37)(12.43,3.36)(12.71,3.3)(13.13,3.28)(13.41,3.22)(13.69,3.28)(13.97,3.18)(14.40,3.22)(14.68,3.33)(15.10,3.34)(15.52,3.36)(15.66,2.8)(15.89,3.33)(16.08,3.07)(16.28,3.39)(16.45,2.84)(16.65,2.52)(16.84,3.03)(17.07,2.87)(17.29,3.17)(17.49,2.81)(17.77,2.72)(17.97,2.87)(18.19,2.9)(18.47,3.17)(18.76,2.78)(19.04,3.3)(19.32,3.03)(19.60,3.09)(19.82,3.01)(20.08,3.45)(20.30,2.95)(20.58,3.17)(20.86,3.03)(21.15,3.09)(21.29,2.9)(21.51,3.26)(21.85,3.33)(22.13,3.33)(22.41,3.25)(22.69,3.36)(22.97,3.17)(23.26,3.36)(23.54,3.31)(23.82,3.36)(24.10,3.42)(24.32,3.44)(24.52,3.39)(24.72,3.26)(24.86,3.42)(25.00,3.23)};
\addplot[t224] coordinates {(5.00,2.45)(5.82,2.46)(6.94,2.46)(8.07,2.46)(9.19,2.46)(10.04,2.47)(10.32,2.44)(10.88,2.41)(11.44,2.41)(12.00,2.39)(12.29,2.36)(12.57,2.34)(12.99,2.37)(13.41,2.36)(13.97,2.34)(14.25,2.31)(14.54,2.42)(14.76,2.34)(15.04,2.32)(15.24,2.23)(15.52,2.34)(15.94,2.36)(16.50,2.35)(17.07,2.36)(17.63,2.35)(18.19,2.36)(18.76,2.34)(19.18,2.32)(19.60,2.34)(20.16,2.35)(20.72,2.34)(21.29,2.36)(21.85,2.35)(22.69,2.34)(23.26,2.35)(23.82,2.32)(24.38,2.32)(24.80,2.31)(25.00,2.3)};
\addplot[t392] coordinates {(5.00,2.38)(12.5,2.38)(12.6,2.36)(12.8,2.38)(25.00,2.38)};
\addplot[t309] coordinates {(5.00,2.37)(10.88,2.37)(11.10,2.39)(11.44,2.37)(12.00,2.39)(12.29,2.41)(12.57,2.36)(13.13,2.38)(13.69,2.37)(13.97,2.41)(14.40,2.39)(14.68,2.31)(14.96,2.3)(15.24,2.34)(15.66,2.36)(16.22,2.37)(17.07,2.37)(20.44,2.37)(21.85,2.38)(25.00,2.38)};
\end{axis}
% ================= ROW 3 =================
% ---- i ----
\begin{axis}[at={(71pt,60.3pt)}, C1, R3, xticklabels={07,12,17,22,27}, ly]
\addplot[c58] coordinates {(7.00,26.3) (7.20,34.2) (7.42,29.1) (7.62,21.9) (7.90,19.8) (8.18,16.2) (8.46,21.2) (8.74,11.8) (9.03,8.2) (9.31,14.0) (9.59,11.1) (9.87,12.6) (10.15,10.4) (10.43,9.7) (10.80,16.2) (11.08,27.0) (11.36,27.7) (11.64,20.5) (11.92,10.4) (12.20,9.7) (12.54,13.3) (12.82,16.2) (13.10,20.5) (13.39,45.0) (13.61,23.4) (13.89,20.5) (14.17,24.8) (14.45,21.9) (14.74,14.7) (15.02,45.7) (15.30,30.6) (15.58,17.6) (15.86,15.4) (16.20,20.5) (16.48,28.4) (16.76,17.6) (17.04,15.4) (17.32,8.2) (17.60,16.2) (17.89,19.8) (18.17,11.1) (18.45,13.3) (18.73,10.4) (19.01,17.6) (19.29,7.5) (19.63,14.0) (19.91,9.7) (20.19,6.1) (20.47,17.6) (20.76,15.4) (21.04,7.5) (21.32,7.5) (21.60,9.7) (21.82,60) (21.96,60) (22.16,36.4) (22.44,23.4) (22.72,24.8) (22.95,28.4) (23.23,26.3) (23.51,17.6) (23.79,14.7) (24.07,13.3) (24.36,11.8) (24.64,12.6) (24.92,5.3) (25.20,7.5) (25.48,8.2) (25.76,11.8) (26.04,10.4) (26.32,6.1) (26.61,4.6) (26.83,7.5) (27.00,9.7)};
\addplot[c392] coordinates {(7.00,8.2) (7.34,8.2) (7.62,11.1) (7.98,18.3) (8.27,13.3) (8.55,8.9) (8.88,6.8) (9.22,8.9) (9.50,9.7) (9.78,10.4) (10.07,8.9) (10.35,9.7) (10.63,7.5) (10.91,8.2) (11.19,11.1) (11.47,14.0) (11.75,11.8) (12.04,7.5) (12.32,6.1) (12.60,8.2) (12.88,12.6) (13.16,13.3) (13.44,12.6) (13.67,16.2) (13.89,26.3) (14.09,21.9) (14.29,20.5) (14.51,24.8) (14.74,16.2) (14.93,20.5) (15.07,27.0) (15.30,19.0) (15.50,10.4) (15.78,8.2) (16.06,13.3) (16.34,14.7) (16.62,14.0) (16.90,15.4) (17.18,8.9) (17.46,6.1) (17.75,6.8) (18.03,6.1) (18.31,6.1) (18.59,5.3) (18.87,6.8) (19.15,3.9) (19.35,21.9) (19.52,43.6) (19.71,29.1) (19.91,14.7) (20.19,10.4) (20.47,6.1) (20.76,7.5) (21.04,6.1) (21.32,7.5) (21.54,8.9) (21.74,19.0) (21.96,29.1) (22.16,23.4) (22.39,20.5) (22.67,30.6) (22.89,34.2) (23.12,33.5) (23.37,21.9) (23.65,19.0) (23.85,24.1) (24.07,14.7) (24.36,10.4) (24.64,6.1) (24.92,11.1) (25.20,20.5) (25.42,24.8) (25.65,32.8) (25.90,29.1) (26.18,16.2) (26.47,11.1) (26.75,15.4) (27.00,13.3)};
\end{axis}
\begin{axis}[at={(71pt,60.3pt)}, C1, R3d, hide axis]
\addplot[dis] coordinates {(7.00,82) (8.32,89) (9.45,100) (10.85,92) (12.26,85) (13.39,87) (14.23,118) (15.07,162) (15.92,198) (16.62,219) (17.60,225) (18.73,215) (19.86,198) (20.70,176) (21.68,150) (22.53,144) (23.51,150) (24.64,140) (25.76,128) (27.00,115)};
\end{axis}
% ---- j ----
\begin{axis}[at={(319.3pt,60.3pt)}, C2, R3, xticklabels={01,06,11,16}, noy]
\addplot[c58] coordinates {(-1.00,19.0) (-0.80,21.2) (-0.61,16.2) (-0.38,7.5) (-0.16,13.3) (0.04,10.4) (0.32,6.8) (0.52,4.6) (0.74,10.4) (1.02,14.0) (1.30,8.9) (1.58,13.3) (1.81,13.3) (2.09,10.4) (2.37,8.9) (2.65,10.4) (2.93,7.5) (3.21,6.8) (3.41,9.7) (3.69,13.3) (3.97,11.1) (4.25,14.7) (4.53,13.3) (4.81,17.6) (5.09,13.3) (5.37,8.2) (5.65,10.4) (5.93,8.9) (6.21,11.8) (6.49,17.6) (6.77,14.0) (7.05,20.5) (7.25,13.3) (7.53,26.3) (7.75,17.6) (8.03,11.8) (8.32,9.7) (8.60,11.1) (8.88,14.7) (9.16,8.9) (9.44,7.5) (9.72,6.8) (10.00,11.8) (10.28,19.0) (10.56,26.3) (10.70,32.0) (10.90,19.0) (11.18,16.2) (11.46,20.5) (11.74,16.2) (12.02,11.8) (12.30,8.2) (12.58,13.3) (12.86,17.6) (13.14,19.0) (13.42,23.4) (13.59,33.5) (13.76,41.4) (13.93,30.6) (14.15,16.2) (14.43,10.4) (14.71,11.8) (14.99,9.7) (15.27,13.3) (15.55,11.1) (15.84,14.7) (16.12,12.6) (16.40,15.4) (16.68,11.1) (16.96,13.3) (17.24,16.2) (17.52,29.1) (17.71,38.5) (17.91,34.9) (18.14,24.8) (18.42,16.2) (18.70,11.8) (18.87,15.4) (19.00,19.0)};
\addplot[c392] coordinates {(-1.00,36.4) (-0.89,24.8) (-0.66,10.4) (-0.44,12.6) (-0.16,15.4) (0.12,10.4) (0.40,11.8) (0.68,11.1) (0.96,8.9) (1.24,9.7) (1.53,11.1) (1.81,8.9) (2.09,8.2) (2.37,7.5) (2.65,10.4) (2.84,29.1) (3.12,26.3) (3.32,17.6) (3.55,11.1) (3.83,19.0) (4.11,11.8) (4.39,8.2) (4.67,16.2) (4.95,17.6) (5.23,21.9) (5.51,32.0) (5.79,38.5) (6.01,41.4) (6.24,32.0) (6.49,29.9) (6.69,32.0) (6.91,29.1) (7.19,23.4) (7.47,17.6) (7.75,14.7) (8.03,15.4) (8.32,11.1) (8.60,13.3) (8.88,10.4) (9.16,19.0) (9.44,16.2) (9.72,7.5) (10.00,8.9) (10.28,7.5) (10.56,14.7) (10.84,21.2) (11.12,23.4) (11.40,20.5) (11.68,24.1) (11.96,26.3) (12.19,27.7) (12.41,26.3) (12.69,21.9) (12.97,17.6) (13.25,20.5) (13.53,23.4) (13.81,21.9) (14.10,19.0) (14.38,14.7) (14.66,13.3) (14.94,10.4) (15.22,11.8) (15.50,10.4) (15.78,13.3) (16.06,11.1) (16.34,15.4) (16.62,13.3) (16.90,14.7) (17.18,11.1) (17.46,8.9) (17.74,10.4) (18.02,11.8) (18.30,13.3) (18.58,12.6) (18.87,15.4) (19.00,18.3)};
\end{axis}
\begin{axis}[at={(319.3pt,60.3pt)}, C2, R3d, hide axis]
\addplot[dis] coordinates {(-1.00,241) (-0.66,248) (0.18,248) (1.02,241) (1.86,227) (2.70,208) (3.55,193) (4.39,190) (5.23,198) (6.07,212) (6.91,219) (8.03,219) (9.16,212) (10.42,205) (11.12,219) (11.82,248) (12.53,280) (13.37,299) (14.49,313) (15.33,299) (16.45,270) (17.43,234) (18.14,219) (19.00,208)};
\end{axis}
% ---- k ----
\begin{axis}[at={(568pt,60.3pt)}, C3, R3, xticklabels={05,10,15,20}, noy]
\addplot[c58] coordinates {(4.00,19.0) (4.23,14.7) (4.45,17.6) (4.59,7.5) (4.79,6.8) (5.01,8.2) (5.29,9.7) (5.52,16.2) (5.72,19.0) (6.00,13.3) (6.28,16.2) (6.56,10.4) (6.84,8.9) (7.12,17.6) (7.32,21.9) (7.54,11.8) (7.77,7.5) (7.97,5.3) (8.25,7.5) (8.53,17.6) (8.81,23.4) (9.09,20.5) (9.37,17.6) (9.65,15.4) (9.94,17.6) (10.22,21.9) (10.41,16.9) (10.69,20.5) (10.98,16.2) (11.26,19.0) (11.48,23.4) (11.71,34.2) (11.90,30.6) (12.10,21.9) (12.38,16.2) (12.66,13.3) (12.95,16.2) (13.23,10.4) (13.51,13.3) (13.79,16.2) (13.96,20.5) (14.24,13.3) (14.52,10.4) (14.80,13.3) (15.08,16.2) (15.36,19.0) (15.65,17.6) (15.93,21.9) (16.12,25.5) (16.32,20.5) (16.60,14.7) (16.88,13.3) (17.16,7.5) (17.45,10.4) (17.73,16.2) (18.01,13.3) (18.29,14.7) (18.57,18.3) (18.85,14.7) (19.13,14.7) (19.36,24.8) (19.58,34.2) (19.78,26.3) (19.98,16.2) (20.26,11.1) (20.54,7.5) (20.82,10.4) (21.10,11.8) (21.38,8.2) (21.67,20.5) (21.89,21.9) (22.12,14.7) (22.40,9.7) (22.68,7.5) (22.96,10.4) (23.24,7.5) (23.52,16.2) (23.72,19.8) (23.86,13.3) (24.00,9.7)};
\addplot[c392] coordinates {(4.00,19.0) (4.23,24.8) (4.45,23.4) (4.68,16.2) (4.87,11.8) (5.07,8.9) (5.29,16.2) (5.52,21.9) (5.72,16.2) (5.91,20.5) (6.08,28.4) (6.28,20.5) (6.48,14.7) (6.76,13.3) (6.98,17.6) (7.21,16.9) (7.49,21.9) (7.68,16.2) (7.97,10.4) (8.25,11.8) (8.53,17.6) (8.81,26.3) (9.01,39.2) (9.12,60) (9.23,60) (9.35,36.4) (9.46,24.8) (9.63,32.0) (9.74,53.7) (9.85,60) (9.96,36.4) (10.13,21.9) (10.41,19.0) (10.69,21.9) (10.92,21.2) (11.20,14.7) (11.48,14.0) (11.76,16.2) (12.05,17.6) (12.27,23.4) (12.47,19.0) (12.75,17.6) (13.03,24.8) (13.23,51.5) (13.45,33.5) (13.68,24.8) (13.96,17.6) (14.24,16.2) (14.52,17.6) (14.80,19.0) (15.08,21.9) (15.36,37.8) (15.59,48.6) (15.81,33.5) (16.04,23.4) (16.32,20.5) (16.60,24.8) (16.88,21.9) (17.16,20.5) (17.45,17.6) (17.73,23.4) (18.01,19.0) (18.29,14.7) (18.57,19.0) (18.85,17.6) (19.13,21.9) (19.42,10.4) (19.70,19.0) (19.98,20.5) (20.26,20.5) (20.54,21.9) (20.82,24.1) (21.10,19.0) (21.38,23.4) (21.61,29.1) (21.83,30.6) (22.06,21.9) (22.29,13.3) (22.57,15.4) (22.85,11.8) (23.13,9.7) (23.41,10.4) (23.69,8.2) (24.00,9.7)};
\end{axis}
\begin{axis}[at={(568pt,60.3pt)}, C3, R3d, hide axis]
\addplot[dis] coordinates {(4.00,208) (5.01,202) (6.14,190) (7.26,179) (7.83,179) (8.53,193) (8.95,219) (9.79,251) (10.64,291) (11.76,356) (12.47,400) (13.45,414) (14.58,407) (15.42,400) (16.55,400) (17.39,407) (18.51,407) (19.50,436) (20.48,483) (21.33,483) (22.03,465) (23.02,421) (24.00,378)};
\end{axis}
% ---- l ----
\begin{axis}[at={(817pt,60.3pt)}, C4, R3, xticklabels={05,10,15,20,25}, noy]
\addplot[c58] coordinates {(5.00,16.2) (5.20,21.9) (5.39,24.1) (5.59,17.6) (5.82,11.8) (6.04,11.8) (6.24,8.9) (6.52,10.4) (6.80,6.1) (7.00,5.3) (7.22,8.2) (7.50,10.4) (7.78,8.2) (8.07,8.9) (8.35,8.2) (8.63,17.6) (8.85,16.2) (9.14,10.4) (9.42,8.9) (9.70,7.5) (9.98,5.3) (10.26,6.1) (10.54,8.2) (10.82,6.8) (11.10,11.8) (11.39,15.4) (11.72,17.6) (12.00,14.7) (12.23,10.4) (12.51,7.5) (12.79,8.2) (13.07,5.3) (13.27,7.5) (13.55,5.3) (13.92,4.6) (14.25,4.3) (14.54,3.9) (14.82,3.2) (15.04,2.2) (15.32,2.5) (15.60,3.2) (15.94,3.5) (16.22,6.1) (16.50,8.9) (16.79,8.9) (17.07,10.4) (17.35,9.7) (17.63,11.8) (17.91,10.4) (18.19,11.8) (18.47,8.9) (18.76,6.1) (19.04,8.2) (19.32,8.9) (19.60,11.1) (19.88,13.3) (20.22,14.7) (20.50,14.7) (20.78,14.0) (21.01,10.4) (21.23,11.8) (21.51,11.1) (21.79,14.0) (22.13,24.1) (22.36,19.0) (22.55,8.9) (22.83,9.7) (23.12,9.7) (23.40,7.5) (23.59,3.9) (23.82,6.1) (24.10,7.5) (24.32,9.7) (24.61,13.3) (24.80,9.7) (25.00,11.1)};
\addplot[c392] coordinates {(5.00,14.7) (5.20,14.0) (5.39,16.2) (5.68,23.4) (5.87,19.0) (6.10,13.3) (6.38,9.7) (6.66,16.2) (6.94,16.9) (7.22,14.7) (7.50,14.7) (7.78,19.0) (8.01,24.1) (8.21,19.0) (8.49,14.7) (8.77,14.7) (9.05,13.3) (9.33,11.8) (9.61,9.7) (9.89,8.9) (10.18,7.5) (10.46,8.2) (10.74,8.9) (11.02,13.3) (11.22,29.1) (11.39,40.0) (11.58,27.7) (11.78,17.6) (12.00,21.9) (12.23,36.4) (12.37,48.6) (12.51,36.4) (12.71,19.0) (12.99,16.2) (13.27,18.3) (13.55,14.7) (13.83,8.2) (14.11,11.8) (14.40,10.4) (14.68,11.8) (14.96,11.1) (15.24,11.8) (15.52,10.4) (15.80,12.6) (16.08,17.6) (16.28,25.5) (16.50,21.9) (16.73,10.4) (17.01,10.4) (17.29,13.3) (17.49,21.9) (17.69,21.9) (17.91,20.5) (18.19,10.4) (18.47,8.9) (18.76,5.3) (19.04,4.6) (19.32,10.4) (19.60,17.6) (19.82,36.4) (20.02,52.2) (20.22,36.4) (20.44,21.9) (20.72,17.6) (21.01,17.6) (21.29,11.8) (21.57,4.6) (21.85,10.4) (22.13,21.9) (22.36,25.5) (22.58,17.6) (22.83,10.4) (23.12,8.9) (23.40,10.4) (23.68,7.5) (23.96,6.1) (24.24,6.1) (24.52,8.2) (24.80,7.5) (25.00,6.1)};
\end{axis}
\begin{axis}[at={(817pt,60.3pt)}, C4, R3d, hide x axis, axis y line*=right, ry]
\addplot[dis] coordinates {(5.00,63) (5.82,61) (6.94,58) (8.07,63) (9.19,82) (10.32,111) (11.44,147) (12.29,169) (13.13,179) (13.97,172) (14.82,154) (15.94,126) (17.07,104) (18.19,89) (19.32,82) (20.44,82) (21.57,85) (22.69,82) (23.82,79) (25.00,78)};
\end{axis}
% ================= TEXT =================
\foreach \x/\l in {83.5/a,331.8/b,580.5/c,829.5/d} {\node[anchor=base west, inner sep=0pt, font=\fs{20}] at (\x pt,700.3pt) {\l};}
\foreach \x/\l in {83.5/e,331.8/f,580.5/g,829.5/h} {\node[anchor=base west, inner sep=0pt, font=\fs{20}] at (\x pt,432.5pt) {\l};}
\foreach \x/\l in {83.5/i,331.8/j,580.5/k,829.5/l} {\node[anchor=base west, inner sep=0pt, font=\fs{20}] at (\x pt,168.5pt) {\l};}
% panel a legend
\node[ann, anchor=base west, text=rd] at (131.7pt,703.3pt) {Air temperature};
\node[ann, anchor=base west, text=bl] at (131.7pt,682.3pt) {Wind speed};
\node[ann, anchor=base west, text=black] at (131.7pt,661.3pt) {Precipitation};
% panel e legend
\node[ann, font=\fs{19}, anchor=base east, text=bl] at (185.5pt,433.3pt) {58 m};
\node[ann, font=\fs{19}, anchor=base east, text=grn] at (185.5pt,412.5pt) {139 m};
\node[ann, font=\fs{19}, anchor=base east, text=rd] at (185.5pt,391.7pt) {224 m};
\node[ann, font=\fs{19}, anchor=base east, text=cyn] at (185.5pt,371pt) {309 m};
\node[ann, font=\fs{19}, anchor=base east, text=black] at (185.5pt,350.3pt) {392 m};
\draw[arr, rd] (178.3pt,258.3pt) -- (178.3pt,279.3pt);
\draw[arr, cyn] (183.3pt,241.7pt) -- (183.3pt,262.7pt);
\draw[arr, black] (219.3pt,231.7pt) -- (219.3pt,252.7pt);
\node[ann, anchor=base west] at (172.7pt,220.3pt) {Drop};
% panel f
\node[ann, anchor=base west] at (420.7pt,437.7pt) {Oscillation};
\draw[arr, grn] (426pt,426pt) -- (498.3pt,426pt);
% panel g
\node[ann, rotate=-90] at (699.2pt,363.5pt) {Cooling};
\draw[arr, grn] (680.7pt,389.3pt) -- (686.7pt,315pt);
% panel h
\node[ann, rotate=13] at (887.3pt,437pt) {Warming};
\draw[arr, bl] (840.7pt,410pt) -- (889.3pt,421pt);
\node[ann, rotate=-12] at (858.7pt,333.7pt) {Cooling};
\draw[arr, grn] (840.7pt,357.7pt) -- (889.3pt,347pt);
% panel i, j legends
\node[ann, font=\fs{19}, anchor=base west, text=bl] at (126pt,169.3pt) {58 m};
\node[ann, font=\fs{19}, anchor=base west, text=black] at (186.7pt,169.3pt) {392 m};
\node[ann, anchor=base west, text=rd] at (356pt,170.3pt) {Discharge};
% axis labels
\node[rotate=90, inner sep=0pt, font=\fs{20}, text=axgray] at (25.8pt,610.3pt) {Wind (m s\textsuperscript{-1}) / T (°C)};
\node[rotate=90, inner sep=0pt, font=\fs{20}, text=axgray] at (1108pt,603.5pt) {Precipitation (mm d\textsuperscript{-1})};
\node[rotate=90, inner sep=0pt, font=\fs{20}, text=axgray] at (32.5pt,332pt) {Temperature (°C)};
\node[rotate=90, inner sep=0pt, font=\fs{20}, text=axgray] at (25pt,127pt) {Current (mm s\textsuperscript{-1})};
\node[rotate=90, inner sep=0pt, font=\fs{20}, text=rd] at (1120pt,128pt) {Discharge (m\textsuperscript{3} s\textsuperscript{-1})};
\node[anchor=base, inner sep=0pt, font=\fs{20}, text=axgray] at (189.5pt,4pt) {October 2017};
\node[anchor=base, inner sep=0pt, font=\fs{20}, text=axgray] at (438pt,4pt) {December 2017};
\node[anchor=base, inner sep=0pt, font=\fs{20}, text=axgray] at (686.5pt,4pt) {January 2018};
\node[anchor=base, inner sep=0pt, font=\fs{20}, text=axgray] at (935.5pt,4pt) {May 2018};
\end{tikzpicture}
\end{document}
